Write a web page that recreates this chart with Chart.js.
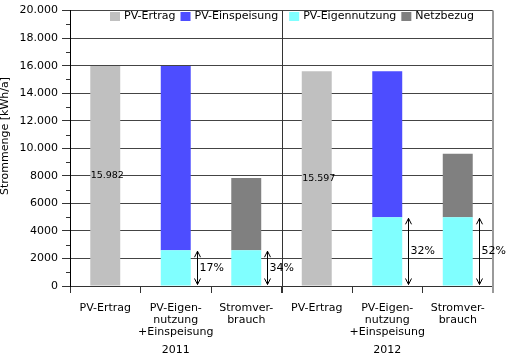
<!DOCTYPE html>
<html><head><meta charset="utf-8">
<script src="https://cdn.jsdelivr.net/npm/chart.js@4.4.1/dist/chart.umd.min.js"></script>
<style>html,body{margin:0;padding:0;background:#fff}#wrap{width:507px;height:358px}</style>
</head><body><div id="wrap"><canvas id="c" width="507" height="358"></canvas></div>
<script>
const categories = [['PV-Ertrag'], ['PV-Eigen-','nutzung','+Einspeisung'], ['Stromver-','brauch'], ['PV-Ertrag'], ['PV-Eigen-','nutzung','+Einspeisung'], ['Stromver-','brauch']];
const years = ['2011', '2012'];
const pvErtrag = [15982, null, null, 15597, null, null];
const pvEigennutzung = [null, 2600, 2600, null, 4990, 4990];
const pvEinspeisung = [null, 13382, null, null, 10607, null];
const netzbezug = [null, null, 5250, null, null, 4610];
const ertragLabels = ['15.982', '', '', '15.597', '', ''];
const shareLabels = ['', '17%', '34%', '', '32%', '52%'];
const yTickLabels = ['0','2000','4000','6000','8000','10.000','12.000','14.000','16.000','18.000','20.000'];
const legendNames = ['PV-Ertrag', 'PV-Einspeisung', 'PV-Eigennutzung', 'Netzbezug'];
const legendColors = ['#c0c0c0', '#4d4dff', '#80ffff', '#808080'];
const yTitle = 'Strommenge [kWh/a]';

const FONT = "'DejaVu Sans', Verdana, sans-serif";
Chart.defaults.font.family = FONT;
Chart.defaults.font.size = 11;
Chart.defaults.color = '#000';

function line(ctx, x1, y1, x2, y2) { ctx.beginPath(); ctx.moveTo(x1, y1); ctx.lineTo(x2, y2); ctx.stroke(); }

const deco = {
  id: 'deco',
  afterDatasetsDraw(chart) {
    const { ctx, chartArea: a, scales: { x, y } } = chart;
    ctx.save();
    ctx.strokeStyle = '#333'; ctx.lineWidth = 1;
    for (let v = 1000; v < 20000; v += 2000) {
      const py = Math.round(y.getPixelForValue(v)) + 0.5;
      line(ctx, a.left - 4, py, a.left, py);
    }
    const dx = Math.round((x.getPixelForValue(2) + x.getPixelForValue(3)) / 2) + 0.5;
    line(ctx, dx, a.top, dx, a.bottom + 7);
    ctx.strokeStyle = '#9a9a9a'; ctx.lineWidth = 2;
    line(ctx, a.right, a.top, a.right, a.bottom + 7);

    // labels inside PV-Ertrag bars
    const m0 = chart.getDatasetMeta(0);
    ctx.fillStyle = '#000'; ctx.font = '9.5px ' + FONT; ctx.textAlign = 'center'; ctx.textBaseline = 'middle';
    m0.data.forEach((el, i) => { if (ertragLabels[i]) ctx.fillText(ertragLabels[i], el.x + 2, (el.y + el.base) / 2); });

    // arrows for self-consumption share
    const m1 = chart.getDatasetMeta(1);
    ctx.strokeStyle = '#000'; ctx.lineWidth = 1; ctx.font = '11px ' + FONT; ctx.textAlign = 'left';
    m1.data.forEach((el, i) => {
      if (!shareLabels[i]) return;
      const ax = Math.round(el.x + el.width / 2 + 6) + 0.5;
      const t = el.y + 1, b = el.base - 1;
      line(ctx, ax, t, ax, b);
      ctx.beginPath(); ctx.moveTo(ax - 3, t + 6); ctx.lineTo(ax, t); ctx.lineTo(ax + 3, t + 6); ctx.stroke();
      ctx.beginPath(); ctx.moveTo(ax - 3, b - 6); ctx.lineTo(ax, b); ctx.lineTo(ax + 3, b - 6); ctx.stroke();
      ctx.fillText(shareLabels[i], ax + 2, (t + b) / 2);
    });
    ctx.restore();
  },
  afterDraw(chart) {
    const { ctx } = chart;
    ctx.save();
    // legend
    ctx.font = '11px ' + FONT; ctx.textBaseline = 'middle'; ctx.textAlign = 'left';
    let lx = 110; const ly = 16.5;
    legendNames.forEach((n, i) => {
      ctx.fillStyle = legendColors[i];
      ctx.fillRect(lx, ly - 4.5, 10, 9);
      ctx.fillStyle = '#000';
      ctx.fillText(n, lx + 14, ly);
      lx += 14 + ctx.measureText(n).width + 5;
      if (i === 1) lx += 6;
    });
    // y title
    ctx.translate(5.5, 136); ctx.rotate(-Math.PI / 2);
    ctx.textAlign = 'center'; ctx.fillStyle = '#000';
    ctx.fillText(yTitle, 0, 0);
    ctx.restore();
  }
};

new Chart(document.getElementById('c'), {
  type: 'bar',
  data: {
    labels: categories,
    datasets: [
      { label: legendNames[0], data: pvErtrag, backgroundColor: legendColors[0] },
      { label: legendNames[2], data: pvEigennutzung, backgroundColor: legendColors[2] },
      { label: legendNames[1], data: pvEinspeisung, backgroundColor: legendColors[1] },
      { label: legendNames[3], data: netzbezug, backgroundColor: legendColors[3] }
    ]
  },
  options: {
    responsive: false,
    animation: false,
    layout: { padding: { top: 6, right: 14, bottom: 0, left: 0 } },
    datasets: { bar: { categoryPercentage: 1, barPercentage: 0.425, skipNull: false } },
    plugins: { legend: { display: false }, tooltip: { enabled: false } },
    scales: {
      x: {
        stacked: true,
        offset: true,
        grid: { offset: true, drawOnChartArea: false, tickLength: 7, color: '#333' },
        border: { color: '#333' },
        ticks: { padding: 9, autoSkip: false, maxRotation: 0, font: { size: 11, lineHeight: 1.1 }, color: '#000' },
        afterFit(s) { s.height = 56; }
      },
      x2: {
        type: 'category',
        labels: years,
        position: 'bottom',
        offset: true,
        grid: { display: false, drawTicks: false },
        border: { display: false },
        ticks: { padding: 2, font: { size: 11, lineHeight: 1.1 }, color: '#000' },
        afterFit(s) { s.height = 16; }
      },
      y: {
        stacked: true,
        min: 0, max: 20000,
        ticks: { stepSize: 2000, padding: 4, color: '#000', callback: (v) => yTickLabels[Math.round(v / 2000)] },
        grid: { color: '#444', tickLength: 8, tickColor: '#333' },
        border: { color: '#000' },
        afterFit(s) { s.width = 70; }
      }
    }
  },
  plugins: [deco]
});
</script></body></html>
